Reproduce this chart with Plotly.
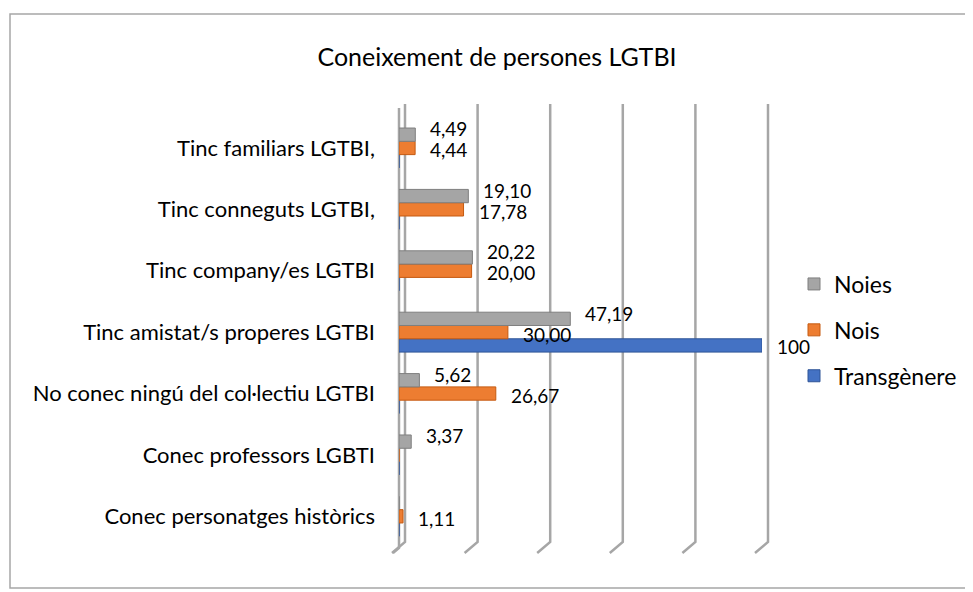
import plotly.graph_objects as go

categories = [
    "Conec personatges històrics",
    "Conec professors LGBTI",
    "No conec ningú del col·lectiu LGTBI",
    "Tinc amistat/s properes LGTBI",
    "Tinc company/es LGTBI",
    "Tinc conneguts LGTBI,",
    "Tinc familiars LGTBI,",
]
noies = [0, 3.37, 5.62, 47.19, 20.22, 19.10, 4.49]
nois = [1.11, 0, 26.67, 30.00, 20.00, 17.78, 4.44]
transgenere = [0, 0, 0, 100, 0, 0, 0]
x_ticks = [0, 20, 40, 60, 80, 100]

# page body has an 8px margin; figure is sized to fit the 973x592 window
OFF = 8
W, H = 973 - OFF, 592 - OFF
L, R, T, B = 391, 211, 97, 45
pw, ph = W - L - R, H - T - B
XMAX = 100


def fmt(v, dec):
    return "" if v == 0 else f"{v:.{dec}f}".replace(".", ",")


FONT = "Lato"
GRID = "#a6a6a6"
# name, values, colour, edge, decimals, legend rank, label y-shift (px)
series = [
    ("Transgènere", transgenere, "#4472c4", "#2f5597", 0, 3, -14),
    ("Nois", nois, "#ed7d31", "#c55a11", 2, 2, -2),
    ("Noies", noies, "#a5a5a5", "#7f7f7f", 2, 1, 19),
]


def px2x(px):
    return (px - OFF - L) / pw


def py2y(py):
    return (H - B - (py - OFF)) / ph


def val2paper(v, shift_px=0):
    return v / XMAX + shift_px / pw


fig = go.Figure()
annotations = []
for name, vals, col, edge, dec, rank, ys in series:
    fig.add_trace(go.Bar(
        y=categories, x=vals, name=name, orientation="h",
        marker=dict(color=col, line=dict(color=edge, width=1)),
        legendgroup=name, legendrank=rank,
    ))
    for cat, v in zip(categories, vals):
        t = fmt(v, dec)
        if t:
            annotations.append(dict(
                x=v, y=cat, xref="x", yref="y", text=t, showarrow=False,
                xanchor="left", yanchor="middle", xshift=13, yshift=ys,
                font=dict(family=FONT, size=19, color="#000000"),
            ))

# back-wall gridlines (3D look) with slanted feet
shapes = []
for t in x_ticks:
    xb = val2paper(t, 6)
    xf = val2paper(t, -7)
    shapes.append(dict(
        type="path", xref="paper", yref="paper", layer="below",
        path=f"M {xb},{py2y(104)} L {xb},{py2y(542)} L {xf},{py2y(553)}",
        line=dict(color=GRID, width=2.5),
    ))
# front edge of the left wall
shapes.append(dict(
    type="path", xref="paper", yref="paper", layer="below",
    path=f"M {val2paper(0)},{py2y(108)} L {val2paper(0)},{py2y(548)} L {val2paper(0, -6)},{py2y(553)}",
    line=dict(color=GRID, width=2.5),
))
shapes.append(dict(type="rect", xref="paper", yref="paper",
                   x0=px2x(10), x1=px2x(980), y0=py2y(588), y1=py2y(14),
                   line=dict(color=GRID, width=1.5), layer="below"))

fig.update_layout(
    width=W, height=H,
    margin=dict(l=L, r=R, t=T, b=B, autoexpand=False),
    paper_bgcolor="white", plot_bgcolor="white",
    barmode="group", bargap=0.35, bargroupgap=0,
    font=dict(family=FONT, size=22, color="#000000"),
    title=dict(text="Coneixement de persones LGTBI", x=(497 - OFF) / W, xanchor="center",
               y=1 - (57 - OFF) / H, yanchor="middle", font=dict(family=FONT, size=25)),
    legend=dict(xref="container", yref="container", x=(794 - OFF) / W, xanchor="left",
                y=1 - (330 - OFF) / H, yanchor="middle",
                traceorder="grouped", tracegroupgap=13,
                font=dict(family=FONT, size=23)),
    xaxis=dict(range=[0, XMAX], tickvals=x_ticks, showticklabels=False,
               showgrid=False, zeroline=False, showline=False),
    yaxis=dict(categoryorder="array", categoryarray=categories,
               range=[-0.5, 6.7], showgrid=False, showline=False, zeroline=False,
               ticks="", ticklabelstandoff=23,
               tickfont=dict(family=FONT, size=22)),
    annotations=annotations,
    shapes=shapes,
)

fig.write_html("out.html")
